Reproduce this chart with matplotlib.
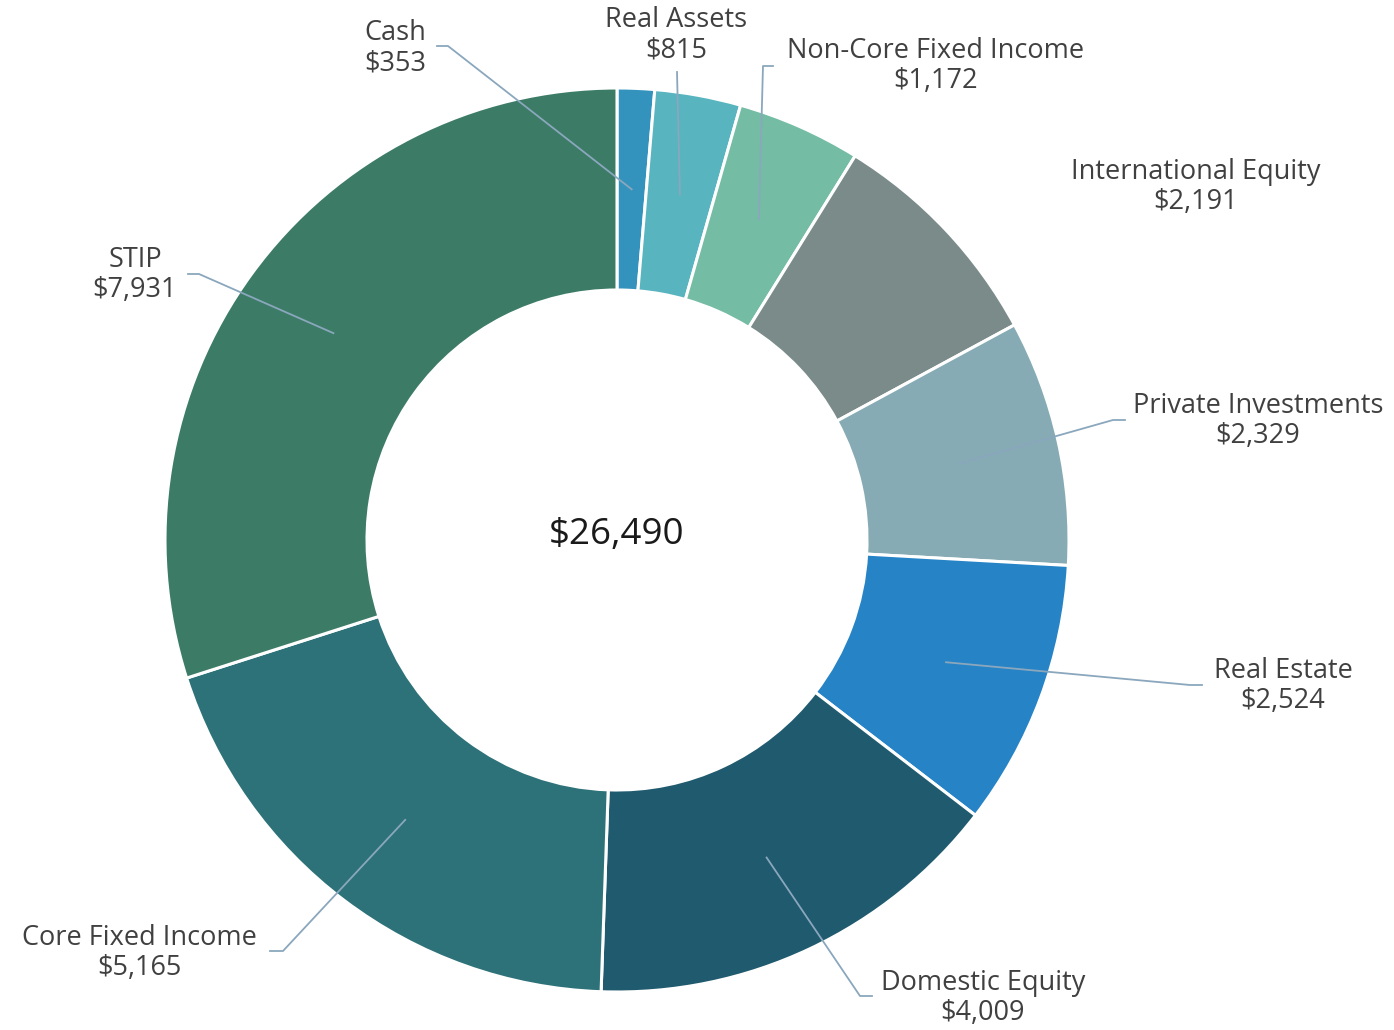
import numpy as np
import matplotlib
matplotlib.use('Agg')
import matplotlib.pyplot as plt

# data (clockwise from 12 o'clock)
labels = ['Cash', 'Real Assets', 'Non-Core Fixed Income', 'International Equity',
          'Private Investments', 'Real Estate', 'Domestic Equity',
          'Core Fixed Income', 'STIP']
values = [353, 815, 1172, 2191, 2329, 2524, 4009, 5165, 7931]
total_label = '$26,490'

colors = ['#3493bc', '#58b4bf', '#74bca4', '#7a8b8a', '#86abb4',
          '#2683c6', '#205a6e', '#2e7279', '#3c7c66']

# label text centres (pixels, y from top) and leader-line elbows
label_pos = [(395, 48), (676, 35), (936, 66), (1196, 187), (1258, 421),
             (1283, 686), (983, 998), (139, 953), (135, 275)]
elbows = [[(448, 46), (437, 46)],
          [(677, 72)],
          [(763, 66), (773, 66)],
          None,
          [(1113, 420), (1125, 420)],
          [(1190, 685), (1202, 685)],
          [(860, 996), (872, 996)],
          [(283, 951), (270, 951)],
          [(199, 274), (188, 274)]]

W, H = 1394, 1030
cx, cy = 617, H - 540
R, r_in = 452, 250

plt.rcParams['font.family'] = ['Open Sans', 'DejaVu Sans']

fig = plt.figure(figsize=(W / 100, H / 100), dpi=100)
ax = fig.add_axes([0, 0, 1, 1])

wedges, _ = ax.pie(values, colors=colors, startangle=90, counterclock=False,
                   center=(cx, cy), radius=R,
                   wedgeprops=dict(width=R - r_in, edgecolor='white', linewidth=2.2))
ax.set_xlim(0, W)
ax.set_ylim(0, H)
ax.set_aspect('equal')
ax.axis('off')

ax.text(cx, H - 535, total_label, ha='center', va='center', fontsize=26.5, color='#1a1a1a')

line_col = '#8aa7bd'
r_mid = (R + r_in) / 2
for w, lab, val, pos, elb in zip(wedges, labels, values, label_pos, elbows):
    ang = np.deg2rad((w.theta1 + w.theta2) / 2)
    ax.text(pos[0], H - pos[1], f'{lab}\n${val:,}', ha='center', va='center',
            fontsize=19.5, color='#404040', linespacing=1.12)
    if elb is None:
        continue
    xs = [cx + r_mid * np.cos(ang)] + [p[0] for p in elb]
    ys = [cy + r_mid * np.sin(ang)] + [H - p[1] for p in elb]
    ax.plot(xs, ys, color=line_col, lw=1.3, zorder=5)

fig.savefig('out.png', dpi=100)
